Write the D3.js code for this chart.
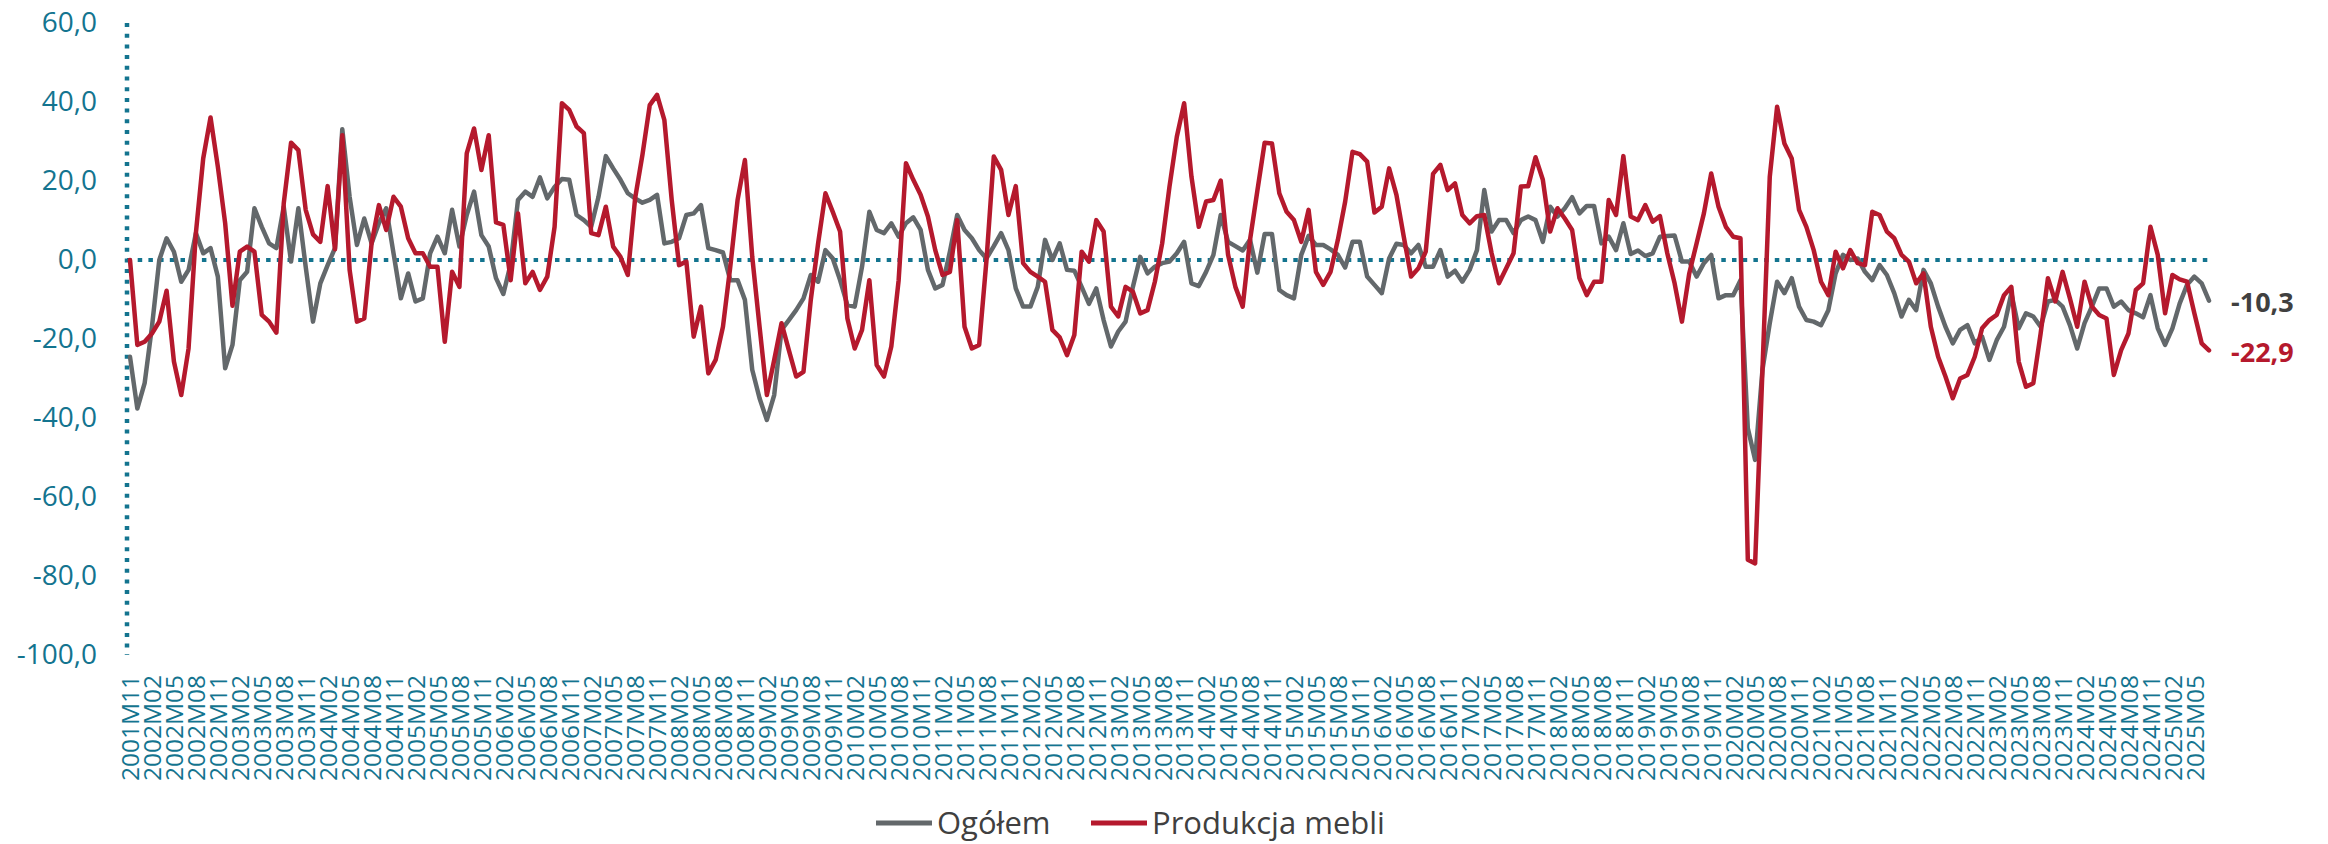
<!DOCTYPE html>
<html>
<head>
<meta charset="utf-8">
<script src="https://d3js.org/d3.v7.min.js"></script>
</head>
<style>
body { margin: 0; background: #ffffff; }
text { font-family: "Open Sans", Lato, "Liberation Sans", sans-serif; }
</style>
<body>
<div id="chart"></div>

<script>

// months: first observation and count (monthly series, 2001M11 ...)
var startYear = 2001, startMonth = 11, nMonths = 285;

// series names
var seriesNames = ["Ogółem", "Produkcja mebli"];

// Ogółem (grey)
var ogolem = [
  -24.5,-37.6,-31.2,-16.9,0.0,5.5,2.1,-5.5,-2.5,6.8,1.7,3.0,
  -4.2,-27.4,-21.5,-5.1,-3.0,13.1,8.4,4.2,3.0,13.5,-0.4,13.1,
  -1.7,-15.6,-5.9,-1.3,3.0,33.1,16.0,3.8,10.5,4.2,9.3,13.1,
  1.7,-9.7,-3.4,-10.5,-9.7,1.7,5.9,1.7,12.7,3.4,11.4,17.3,
  6.3,3.4,-4.6,-8.6,-1.0,15.2,17.3,16.0,20.9,15.6,18.5,20.5,
  20.3,11.4,10.1,8.4,16.0,26.3,23.2,20.3,16.9,15.6,14.5,15.2,
  16.5,4.2,4.6,5.5,11.4,11.8,13.9,3.0,2.5,1.9,-5.1,-5.1,
  -10.1,-27.8,-35.0,-40.5,-34.2,-17.7,-15.2,-12.7,-9.7,-3.8,-5.5,2.5,
  0.4,-5.1,-11.4,-11.8,-1.7,12.2,7.6,6.8,9.3,5.9,9.3,10.8,
  7.6,-2.5,-7.2,-6.3,2.1,11.4,7.6,5.5,2.5,0.4,3.5,6.8,
  2.5,-7.2,-11.8,-11.8,-6.8,5.1,0.0,4.2,-2.5,-2.7,-6.8,-11.1,
  -7.2,-15.2,-21.9,-18.1,-15.6,-6.8,0.8,-3.4,-1.7,-0.8,-0.4,1.7,
  4.6,-5.9,-6.6,-3.0,1.3,11.4,4.6,3.5,2.4,5.1,-3.2,6.6,
  6.6,-7.6,-8.9,-9.7,1.3,6.1,3.8,3.8,2.7,1.3,-1.9,4.6,
  4.6,-4.2,-6.3,-8.4,0.4,4.1,3.8,1.7,3.8,-1.7,-1.7,2.5,
  -4.2,-2.7,-5.5,-2.5,2.5,17.7,7.2,10.1,10.1,6.8,10.1,11.0,
  10.1,4.6,13.5,11.0,13.1,15.9,11.8,13.7,13.7,4.2,5.9,2.5,
  9.3,1.5,2.4,1.0,1.7,5.9,6.1,6.2,-0.4,-0.4,-4.2,-0.8,
  1.3,-9.7,-8.9,-8.9,-5.1,-42.6,-50.6,-27.8,-16.0,-5.5,-8.4,-4.6,
  -11.8,-15.2,-15.6,-16.5,-12.7,-3.4,1.3,0.0,0.4,-3.0,-5.1,-1.3,
  -3.8,-8.4,-14.3,-10.1,-12.7,-2.5,-5.9,-11.8,-16.9,-21.1,-17.7,-16.5,
  -21.1,-19.4,-25.3,-20.3,-16.9,-8.4,-17.3,-13.5,-14.3,-16.9,-10.5,-10.1,
  -11.8,-16.5,-22.4,-16.0,-11.8,-7.2,-7.2,-11.8,-10.5,-12.7,-13.5,-14.5,
  -8.9,-17.3,-21.5,-17.3,-11.0,-6.3,-4.2,-5.9,-10.3
];

// Produkcja mebli (red)
var meble = [
  0.0,-21.5,-20.7,-18.6,-15.6,-7.8,-25.7,-34.2,-22.4,6.8,25.7,36.1,
  23.6,9.3,-11.6,2.1,3.4,2.1,-13.9,-15.6,-18.4,14.3,29.7,27.8,
  12.7,6.5,4.6,18.7,2.7,31.6,-2.5,-15.6,-14.8,4.2,13.9,7.6,
  16.0,13.5,5.5,1.7,1.7,-1.7,-1.7,-20.7,-3.0,-6.8,27.0,33.3,
  22.8,31.6,9.5,8.9,-5.1,11.8,-5.9,-3.0,-7.6,-4.2,8.4,39.7,
  38.0,33.8,32.1,6.8,6.3,13.5,3.4,0.8,-3.8,15.6,26.6,39.2,
  41.8,35.4,15.2,-1.3,-0.4,-19.4,-11.8,-28.7,-25.3,-16.9,-1.7,15.2,
  25.3,0.8,-16.9,-34.2,-25.3,-16.0,-22.8,-29.5,-28.3,-10.1,4.2,16.9,
  12.2,7.2,-14.8,-22.4,-17.7,-5.1,-26.6,-29.5,-21.9,-5.1,24.5,20.3,
  16.5,11.0,2.5,-3.8,-3.0,10.1,-16.9,-22.4,-21.5,0.0,26.2,22.8,
  11.4,18.7,-0.8,-3.0,-4.2,-5.5,-17.7,-19.6,-24.1,-19.0,2.1,-0.4,
  10.1,7.2,-11.8,-14.3,-6.8,-8.0,-13.5,-12.7,-5.5,4.2,18.6,31.2,
  39.7,21.1,8.4,14.8,15.2,20.1,1.3,-6.8,-11.8,5.1,17.5,29.7,
  29.5,16.9,12.2,10.1,4.6,12.7,-3.0,-6.3,-3.0,5.1,14.8,27.4,
  26.8,24.9,12.0,13.5,23.2,16.5,5.9,-4.2,-2.1,2.1,21.8,24.1,
  17.7,19.4,11.4,9.3,11.1,11.4,1.7,-5.9,-2.1,1.7,18.6,18.7,
  26.0,20.3,7.2,13.1,10.5,7.6,-4.6,-8.9,-5.5,-5.5,15.2,11.4,
  26.3,11.0,10.1,13.9,9.7,11.1,1.7,-5.9,-15.6,-3.4,4.2,11.8,
  21.9,13.5,8.4,5.9,5.5,-75.9,-76.8,-27.8,21.1,38.8,29.5,25.7,
  12.7,8.4,2.5,-5.5,-8.9,2.1,-2.1,2.5,-0.8,-1.3,12.2,11.4,
  7.2,5.5,1.3,-0.4,-5.9,-3.4,-16.9,-24.5,-29.5,-35.0,-30.0,-29.1,
  -24.5,-17.3,-15.2,-13.9,-8.9,-6.8,-25.7,-32.1,-31.2,-18.6,-4.6,-10.5,
  -3.0,-9.7,-16.9,-5.5,-11.8,-13.9,-14.8,-29.1,-22.8,-18.6,-7.6,-5.9,
  8.4,1.3,-13.5,-3.8,-4.9,-5.5,-13.5,-21.1,-22.9
];

// y axis ticks
var yTicks = [60, 40, 20, 0, -20, -40, -60, -80, -100];

var colors = { grey: "#63686b", red: "#b5192d", axis: "#13748f", text: "#404040" };

// category labels 2001M11, 2001M12, ...
var months = [];
for (var k = 0; k < nMonths; k++) {
  var m = (startMonth - 1 + k) % 12 + 1;
  var yr = startYear + Math.floor((startMonth - 1 + k) / 12);
  months.push(yr + "M" + (m < 10 ? "0" + m : m));
}
// every third month gets a label
var xTickLabels = months.filter(function(d, i) { return i % 3 === 0; });

var W = 2328, H = 844;

var svg = d3.select("#chart")
  .append("svg")
  .attr("width", W)
  .attr("height", H);

var x = d3.scalePoint()
  .domain(months)
  .range([130, 2209]);

var y = d3.scaleLinear()
  .domain([-100, 60])
  .range([655, 23]);

var fmt = function(v) { return d3.format(".1f")(v).replace(".", ",").replace("−", "-"); };

// y axis labels
var yAxis = svg.append("g")
  .attr("transform", "translate(97,0)")
  .call(d3.axisLeft(y).tickValues(yTicks).tickSize(0).tickPadding(0).tickFormat(fmt));
yAxis.select(".domain").remove();
yAxis.selectAll("text")
  .style("font-family", "'Open Sans', Lato, sans-serif")
  .style("font-size", "28px")
  .attr("fill", colors.axis);

// x axis labels (rotated)
var xAxis = svg.append("g")
  .attr("transform", "translate(0,675)")
  .call(d3.axisBottom(x).tickValues(xTickLabels).tickSize(0).tickPadding(0));
xAxis.select(".domain").remove();
xAxis.selectAll("text")
  .style("font-family", "'Open Sans', Lato, sans-serif")
  .style("font-size", "24.5px")
  .attr("fill", colors.axis)
  .attr("text-anchor", "end")
  .attr("transform", "rotate(-90)")
  .attr("x", 0)
  .attr("y", 0)
  .attr("dy", "0.36em");

// dotted axis lines
svg.append("line")
  .attr("x1", 127).attr("x2", 127)
  .attr("y1", y(60)).attr("y2", y(-100))
  .attr("stroke", colors.axis)
  .attr("stroke-width", 4.5)
  .attr("stroke-dasharray", "4,6.7");

svg.append("line")
  .attr("x1", 127).attr("x2", 2211)
  .attr("y1", y(0)).attr("y2", y(0))
  .attr("stroke", colors.axis)
  .attr("stroke-width", 4)
  .attr("stroke-dasharray", "4.5,6.2");

// the two lines
var line = d3.line()
  .x(function(d, i) { return x(months[i]); })
  .y(function(d) { return y(d); });

svg.append("path")
  .datum(ogolem)
  .attr("fill", "none")
  .attr("stroke", colors.grey)
  .attr("stroke-width", 4.5)
  .attr("stroke-linejoin", "round")
  .attr("stroke-linecap", "round")
  .attr("d", line);

svg.append("path")
  .datum(meble)
  .attr("fill", "none")
  .attr("stroke", colors.red)
  .attr("stroke-width", 4.5)
  .attr("stroke-linejoin", "round")
  .attr("stroke-linecap", "round")
  .attr("d", line);

// last value labels
var last = nMonths - 1;
svg.append("text")
  .attr("x", 2231)
  .attr("y", y(ogolem[last]) + 2)
  .attr("dy", "0.35em")
  .attr("fill", colors.text)
  .style("font-size", "27px")
  .style("font-weight", "bold")
  .text(fmt(ogolem[last]));

svg.append("text")
  .attr("x", 2231)
  .attr("y", y(meble[last]) + 2)
  .attr("dy", "0.35em")
  .attr("fill", colors.red)
  .style("font-size", "27px")
  .style("font-weight", "bold")
  .text(fmt(meble[last]));

// legend
var legend = svg.append("g").attr("transform", "translate(0,823)");
var legendItems = [
  { name: seriesNames[0], color: colors.grey, x: 876 },
  { name: seriesNames[1], color: colors.red, x: 1091 }
];
legendItems.forEach(function(d) {
  legend.append("line")
    .attr("x1", d.x).attr("x2", d.x + 56)
    .attr("y1", 0).attr("y2", 0)
    .attr("stroke", d.color)
    .attr("stroke-width", 5);
  legend.append("text")
    .attr("x", d.x + 61)
    .attr("y", 0)
    .attr("dy", "0.35em")
    .attr("fill", colors.text)
    .style("font-size", "31px")
    .text(d.name);
});

</script>
</body>
</html>
